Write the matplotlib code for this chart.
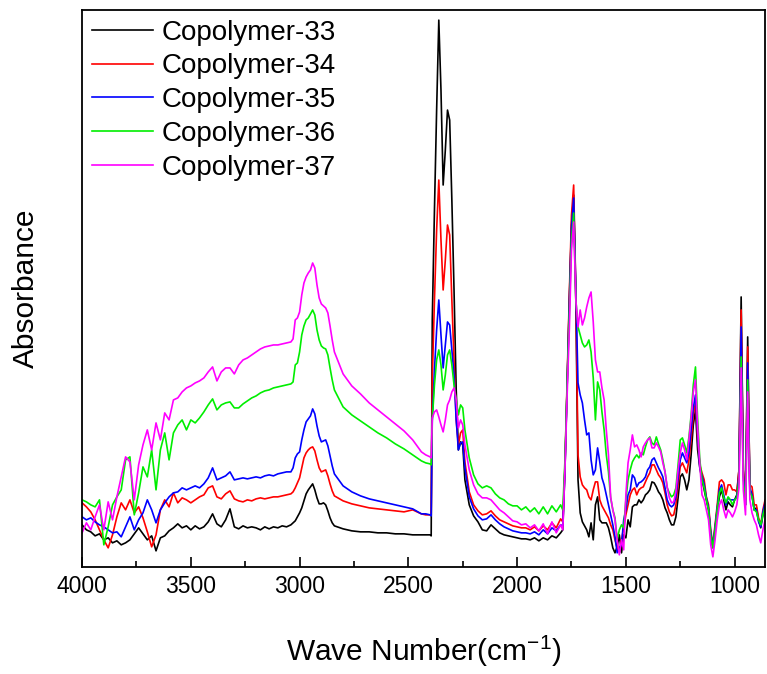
import numpy as np
import matplotlib
matplotlib.use("Agg")
import matplotlib.pyplot as plt
from matplotlib.ticker import MultipleLocator

plt.rcParams['font.family'] = ['Liberation Sans', 'DejaVu Sans']
plt.rcParams['mathtext.default'] = 'regular'

# wavenumber sampling (cm-1), finer around the sharp bands
wn = np.r_[np.arange(4000, 3419, -20),
           np.arange(3400, 3059, -20),
           np.arange(3040, 2839, -10),
           np.arange(2800, 2439, -40),
           [2420, 2400, 2395, 2390, 2380, 2370, 2360, 2350, 2340, 2330,
            2320, 2310, 2300, 2290, 2280, 2270, 2260, 2250],
           np.arange(2240, 1799, -20),
           np.arange(1790, 849, -10)]

# absorbance (a.u.)
cp33 = [42, 37, 35, 31, 33, 27, 29, 24, 26, 22, 24, 27, 33, 39, 33, 27, 31, 16, 29, 31,
        36, 39, 43, 39, 41, 37, 41, 38, 40, 45,
        53, 43, 40, 47, 58, 40, 38, 41, 39, 40, 39, 37, 40, 38, 40, 39, 41, 40,
        42, 44, 46, 50, 54, 59, 66, 73, 77, 80, 83, 77, 69, 63, 63, 64, 62, 56, 49, 44, 41,
        38, 36, 35, 35, 34, 34, 33, 33, 32, 32,
        32, 32, 31, 247, 357, 457, 547, 477, 382, 417, 457, 447, 367, 277, 177, 117, 125, 122,
        87, 62, 51, 45, 37, 36, 42, 38, 34, 32, 31, 30, 29, 28, 28, 27, 29, 26, 29, 27, 31, 29, 34,
        37, 97, 182, 267, 342, 372, 267, 87, 54, 45,
        41, 37, 30, 44, 27, 62, 70, 47, 44, 44,
        44, 39, 30, 19, 14, 20, 32, 14, 32, 29,
        47, 40, 60, 62, 62, 67, 64, 67, 72, 74,
        77, 85, 84, 80, 75, 72, 67, 59, 54, 47,
        42, 42, 50, 69, 90, 93, 87, 77, 87, 112,
        142, 157, 117, 99, 87, 77, 67, 57, 32, 19,
        37, 57, 70, 77, 67, 57, 65, 62, 60, 67,
        72, 97, 270, 97, 62, 230, 77, 72, 57, 59,
        47, 39, 52, 62, 67]

cp34 = [64, 60, 55, 47, 37, 27, 19, 32, 50, 64, 57, 67, 54, 60, 49, 35, 20, 32, 57, 67,
        60, 74, 64, 69, 67, 64, 67, 70, 72, 79,
        81, 70, 68, 73, 76, 68, 66, 65, 67, 66, 68, 69, 68, 69, 70, 70, 71, 72,
        73, 75, 79, 84, 89, 99, 109, 114, 117, 119, 120, 116, 107, 99, 95, 96, 97, 91, 83, 76, 71,
        66, 63, 61, 59, 58, 57, 56, 55, 57, 53,
        52, 52, 52, 187, 267, 337, 387, 327, 277, 307, 342, 332, 267, 207, 147, 122, 134, 137,
        105, 75, 62, 56, 52, 53, 56, 51, 47, 45, 43, 41, 40, 39, 39, 37, 40, 36, 41, 37, 44, 39, 48,
        45, 102, 187, 272, 352, 382, 277, 112, 90, 82,
        79, 77, 70, 67, 77, 85, 85, 67, 61, 57,
        53, 49, 42, 37, 27, 19, 15, 27, 39, 52,
        62, 72, 77, 79, 72, 77, 79, 80, 85, 90,
        94, 102, 102, 97, 92, 89, 84, 74, 62, 55,
        51, 52, 62, 82, 100, 104, 99, 94, 107, 127,
        152, 164, 127, 102, 94, 87, 70, 62, 37, 22,
        42, 62, 85, 87, 84, 72, 82, 82, 77, 77,
        75, 97, 257, 97, 67, 220, 82, 80, 62, 62,
        49, 42, 57, 67, 70]

cp35 = [50, 47, 49, 45, 42, 40, 37, 34, 35, 30, 40, 50, 37, 47, 54, 67, 57, 44, 57, 64,
        70, 74, 75, 79, 77, 79, 81, 79, 83, 89,
        99, 87, 89, 91, 95, 87, 88, 89, 88, 89, 90, 89, 91, 92, 91, 93, 94, 95,
        95, 99, 109, 113, 115, 127, 137, 145, 148, 151, 158, 153, 141, 131, 125, 126, 127, 121, 111, 101, 93,
        81, 75, 71, 68, 66, 64, 62, 60, 58, 53,
        53, 52, 51, 147, 197, 237, 267, 232, 199, 222, 245, 242, 217, 192, 147, 117, 124, 125,
        99, 70, 58, 51, 47, 48, 52, 47, 43, 40, 38, 36, 35, 34, 34, 33, 35, 32, 37, 33, 39, 36, 42,
        41, 99, 182, 262, 339, 369, 277, 184, 172, 164,
        147, 132, 134, 107, 92, 97, 119, 105, 89, 82,
        72, 62, 52, 42, 30, 14, 19, 22, 47, 57,
        72, 77, 92, 89, 80, 84, 85, 87, 90, 97,
        100, 107, 109, 104, 99, 95, 90, 79, 67, 62,
        60, 62, 70, 89, 107, 114, 109, 104, 115, 137,
        159, 172, 132, 99, 91, 82, 69, 59, 35, 20,
        40, 59, 77, 82, 72, 62, 69, 67, 67, 67,
        70, 92, 240, 92, 62, 204, 79, 72, 57, 57,
        45, 40, 55, 64, 67]

cp36 = [67, 65, 62, 60, 67, 22, 40, 62, 70, 77, 107, 110, 52, 74, 100, 90, 117, 77, 117, 134,
        107, 134, 142, 147, 137, 147, 144, 149, 155, 162,
        168, 157, 162, 164, 165, 159, 159, 163, 166, 169, 171, 174, 176, 177, 179, 180, 181, 182,
        183, 185, 202, 204, 215, 232, 241, 247, 249, 253, 257, 252, 237, 227, 221, 219, 218, 212, 199, 187, 177,
        160, 152, 146, 140, 134, 129, 123, 118, 112, 106,
        104, 103, 102, 147, 182, 207, 217, 202, 177, 192, 212, 217, 202, 182, 167, 152, 162, 159,
        137, 109, 92, 83, 79, 81, 79, 73, 69, 67, 63, 61, 61, 57, 60, 55, 59, 53, 60, 53, 61, 55, 62,
        57, 107, 182, 252, 327, 354, 267, 240, 232, 224,
        220, 222, 227, 215, 189, 147, 185, 177, 155, 137,
        112, 95, 69, 57, 49, 27, 37, 42, 39, 67,
        87, 97, 105, 109, 112, 109, 114, 112, 120, 127,
        130, 124, 122, 130, 123, 117, 107, 95, 79, 74,
        70, 72, 79, 102, 127, 129, 122, 114, 130, 152,
        182, 200, 147, 107, 87, 79, 67, 57, 32, 19,
        37, 57, 74, 79, 69, 64, 70, 67, 62, 67,
        69, 87, 210, 87, 62, 187, 75, 70, 57, 55,
        47, 42, 52, 60, 64]

cp37 = [34, 44, 37, 50, 62, 37, 65, 47, 70, 90, 110, 105, 67, 102, 122, 137, 117, 144, 127, 154,
        147, 167, 169, 175, 179, 181, 184, 186, 189, 195,
        200, 186, 195, 199, 199, 193, 202, 207, 209, 212, 215, 218, 220, 221, 222, 222, 223, 224,
        225, 228, 247, 249, 255, 272, 284, 290, 294, 297, 304, 299, 282, 269, 263, 261, 259, 254, 241, 227, 215,
        193, 181, 173, 164, 157, 150, 143, 136, 127, 115,
        112, 110, 109, 149, 155, 157, 150, 142, 135, 147, 162, 167, 175, 179, 167, 139, 147, 142,
        122, 97, 82, 73, 69, 69, 67, 62, 57, 54, 50, 46, 45, 42, 43, 39, 42, 36, 43, 33, 45, 34, 42,
        37, 97, 172, 237, 317, 345, 267, 240, 257, 242,
        249, 260, 269, 275, 245, 207, 195, 195, 179, 167,
        137, 112, 70, 57, 47, 27, 12, 27, 17, 72,
        104, 117, 132, 120, 122, 117, 110, 120, 124, 127,
        129, 119, 119, 124, 120, 115, 104, 95, 80, 69,
        64, 65, 75, 97, 114, 124, 117, 107, 127, 149,
        175, 187, 139, 102, 72, 67, 57, 47, 22, 10,
        27, 47, 62, 67, 57, 49, 57, 54, 50, 55,
        62, 79, 199, 77, 52, 175, 67, 54, 47, 42,
        32, 24, 37, 47, 52]

names = ['Copolymer-33', 'Copolymer-34', 'Copolymer-35', 'Copolymer-36', 'Copolymer-37']
colors = ['#000000', '#ff0000', '#0000ff', '#00ee00', '#ff00ff']
spectra = [cp33, cp34, cp35, cp36, cp37]

fig = plt.figure(figsize=(7.67, 6.74), dpi=100)
ax = fig.add_axes([0.107, 0.159, 0.8905, 0.826])

for s, c, nm in zip(spectra, colors, names):
    ax.plot(wn, s, color=c, lw=1.2, label=nm)

ax.set_xlim(4000, 860)
ax.set_ylim(0, 557)
ax.xaxis.set_major_locator(MultipleLocator(500))
ax.xaxis.set_minor_locator(MultipleLocator(250))
ax.set_yticks([])
ax.tick_params(axis='x', which='major', direction='in', length=7, width=1.2,
               labelsize=16.5, pad=6)
ax.tick_params(axis='x', which='minor', direction='in', length=4, width=1.2)
for sp in ax.spines.values():
    sp.set_linewidth(1.3)

ax.set_xlabel('Wave Number(cm$^{-1}$)', fontsize=21.5, labelpad=26)
ax.set_ylabel('Absorbance', fontsize=21.5, labelpad=30)

ax.legend(loc='upper left', bbox_to_anchor=(0.006, 0.993), frameon=False,
          fontsize=20, handlelength=2.2, handletextpad=0.3, labelspacing=0.28,
          borderpad=0.2, borderaxespad=0.0)

fig.savefig('out.png', dpi=100)
